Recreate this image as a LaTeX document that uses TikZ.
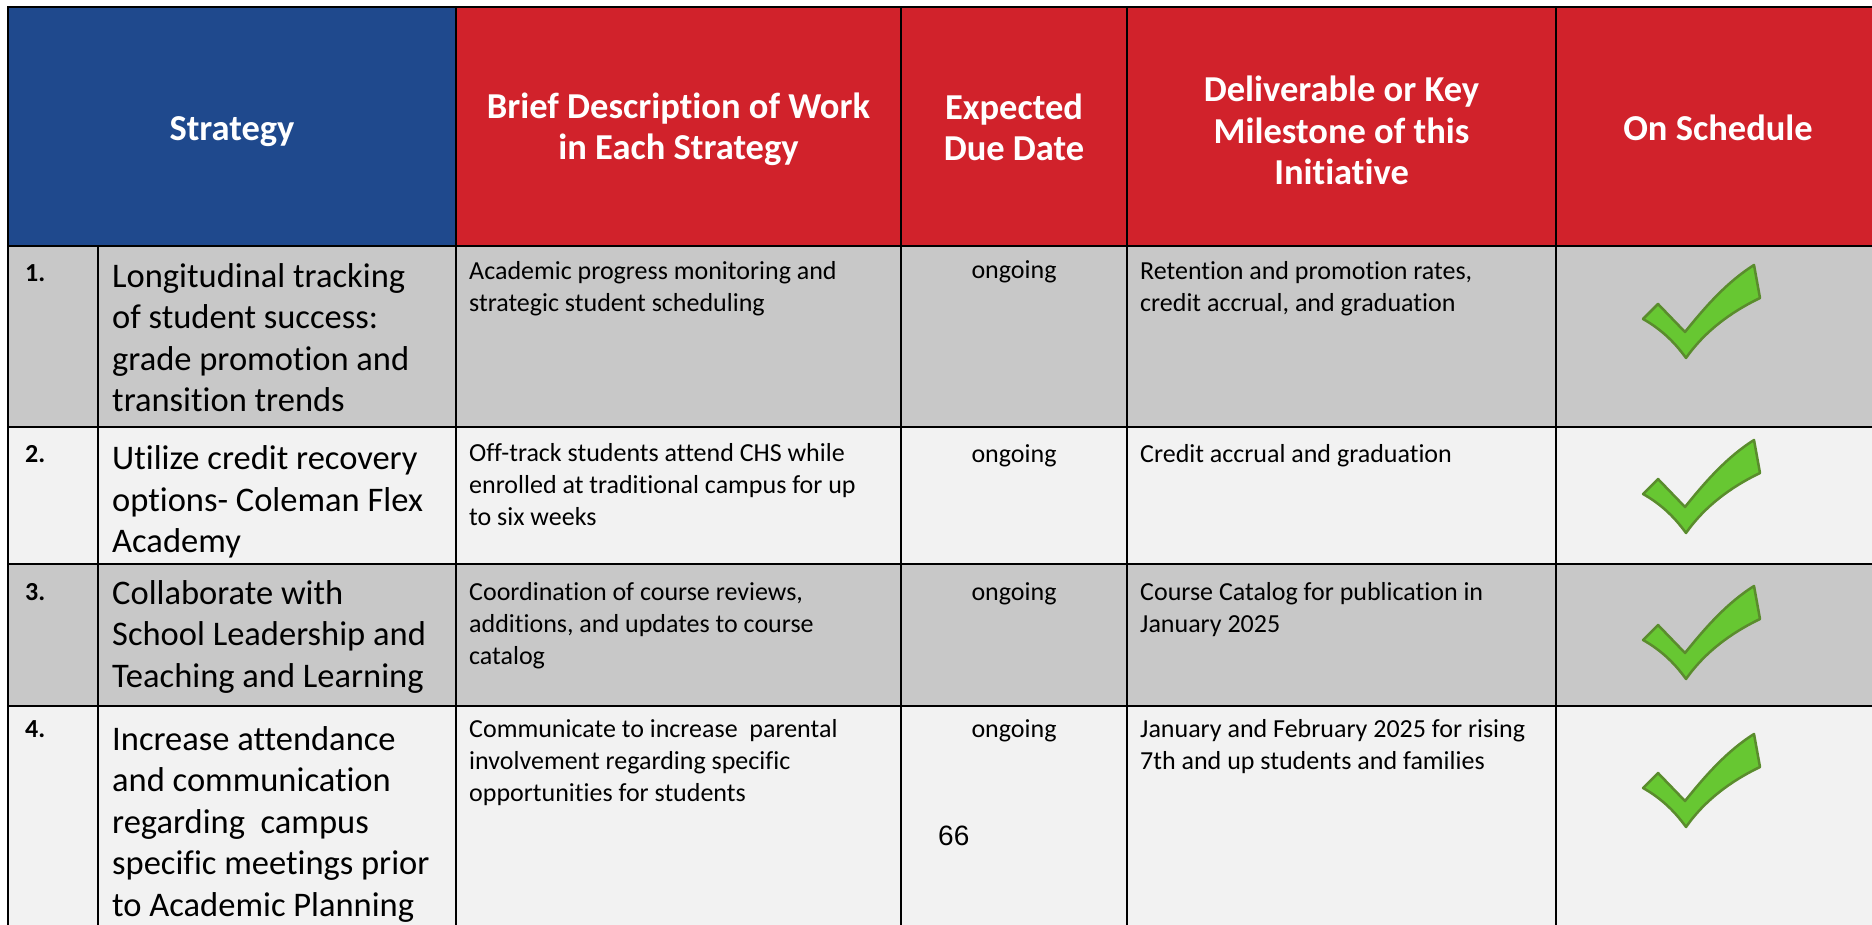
\documentclass[tikz,border=0pt]{standalone}
\usepackage{fontspec}
\setmainfont{Carlito}[Ligatures={NoCommon}]
\newfontfamily\arialfont{Liberation Sans}
\usetikzlibrary{positioning}

\definecolor{hdrblue}{RGB}{31,73,141}
\definecolor{hdrred}{RGB}{209,34,43}
\definecolor{rowdark}{RGB}{200,200,200}
\definecolor{rowlight}{RGB}{242,242,242}
\definecolor{chkfill}{RGB}{103,199,50}
\definecolor{chkline}{RGB}{90,140,45}

\tikzset{
  cell/.style={draw=black, line width=2.5pt, inner sep=0pt, outer sep=0pt},
  hdr/.style={cell, minimum height=239pt},
  hdrtext/.style={text=white, align=center, inner sep=0pt, font=\fontsize{36.5}{41.5}\selectfont\bfseries},
  cnum/.style={minimum width=90pt},
  cstrat/.style={minimum width=358pt},
  cbrief/.style={minimum width=445pt},
  cdue/.style={minimum width=226pt},
  cdeliv/.style={minimum width=429pt},
  csched/.style={minimum width=324pt},
  % base = Grundlinie der letzten Zeile
  bigtext/.style={anchor=base west, align=left, inner sep=0pt, font=\fontsize{34.5}{41.5}\selectfont},
  smalltext/.style={anchor=base west, align=left, inner sep=0pt, font=\fontsize{26}{32}\selectfont},
  numtext/.style={anchor=base west, inner sep=0pt, font=\fontsize{26}{32}\selectfont\bfseries},
  duetext/.style={anchor=base, inner sep=0pt, font=\fontsize{26}{32}\selectfont},
  checkmk/.pic={
    \filldraw[fill=chkfill, draw=chkline, line width=2.5pt, line join=round]
      (0,54) -- (15,39) -- (42,67) .. controls (62,42) and (84,17) .. (111,0)
      -- (117,33) .. controls (88,47) and (62,66) .. (43,93)
      .. controls (30,75) and (16,63) .. cycle;
  }
}

\begin{document}
\begin{tikzpicture}[x=1pt, y=-1pt]
  \useasboundingbox[fill=white] (0,0) rectangle (1872,925);

  % Kopfzeile
  \node[hdr, fill=hdrblue, minimum width=448pt, anchor=north west] (hstrat) at (8,7) {};
  \node[hdr, cbrief, fill=hdrred, right=0pt of hstrat] (hbrief) {};
  \node[hdr, cdue, fill=hdrred, right=0pt of hbrief] (hdue) {};
  \node[hdr, cdeliv, fill=hdrred, right=0pt of hdue] (hdeliv) {};
  \node[hdr, csched, fill=hdrred, right=0pt of hdeliv] (hsched) {};

  \node[hdrtext, yshift=-5pt] (thstrat) at (hstrat) {Strategy};
  \node[hdrtext, yshift=-3pt] (thbrief) at (hbrief) {Brief Description of Work\\in Each Strategy};
  \node[hdrtext, yshift=-1pt] (thdue) at (hdue) {Expected\\Due Date};
  \node[hdrtext, yshift=-4pt] (thdeliv) at (hdeliv) {Deliverable or Key\\Milestone of this\\Initiative};
  \node[hdrtext, yshift=-1pt] (thsched) at (hsched) {On Schedule};

  % Zeile 1
  \node[cell, cnum, fill=rowdark, minimum height=181pt, anchor=north west] (r1num) at (hstrat.south west) {};
  \node[cell, cstrat, fill=rowdark, minimum height=181pt, right=0pt of r1num] (r1strat) {};
  \node[cell, cbrief, fill=rowdark, minimum height=181pt, right=0pt of r1strat] (r1brief) {};
  \node[cell, cdue, fill=rowdark, minimum height=181pt, right=0pt of r1brief] (r1due) {};
  \node[cell, cdeliv, fill=rowdark, minimum height=181pt, right=0pt of r1due] (r1deliv) {};
  \node[cell, csched, fill=rowdark, minimum height=181pt, right=0pt of r1deliv] (r1sched) {};

  % Zeile 2
  \node[cell, cnum, fill=rowlight, minimum height=137pt, anchor=north west] (r2num) at (r1num.south west) {};
  \node[cell, cstrat, fill=rowlight, minimum height=137pt, right=0pt of r2num] (r2strat) {};
  \node[cell, cbrief, fill=rowlight, minimum height=137pt, right=0pt of r2strat] (r2brief) {};
  \node[cell, cdue, fill=rowlight, minimum height=137pt, right=0pt of r2brief] (r2due) {};
  \node[cell, cdeliv, fill=rowlight, minimum height=137pt, right=0pt of r2due] (r2deliv) {};
  \node[cell, csched, fill=rowlight, minimum height=137pt, right=0pt of r2deliv] (r2sched) {};

  % Zeile 3
  \node[cell, cnum, fill=rowdark, minimum height=142pt, anchor=north west] (r3num) at (r2num.south west) {};
  \node[cell, cstrat, fill=rowdark, minimum height=142pt, right=0pt of r3num] (r3strat) {};
  \node[cell, cbrief, fill=rowdark, minimum height=142pt, right=0pt of r3strat] (r3brief) {};
  \node[cell, cdue, fill=rowdark, minimum height=142pt, right=0pt of r3brief] (r3due) {};
  \node[cell, cdeliv, fill=rowdark, minimum height=142pt, right=0pt of r3due] (r3deliv) {};
  \node[cell, csched, fill=rowdark, minimum height=142pt, right=0pt of r3deliv] (r3sched) {};

  % Zeile 4 (laeuft unten aus dem Bild)
  \node[cell, cnum, fill=rowlight, minimum height=235pt, anchor=north west] (r4num) at (r3num.south west) {};
  \node[cell, cstrat, fill=rowlight, minimum height=235pt, right=0pt of r4num] (r4strat) {};
  \node[cell, cbrief, fill=rowlight, minimum height=235pt, right=0pt of r4strat] (r4brief) {};
  \node[cell, cdue, fill=rowlight, minimum height=235pt, right=0pt of r4brief] (r4due) {};
  \node[cell, cdeliv, fill=rowlight, minimum height=235pt, right=0pt of r4due] (r4deliv) {};
  \node[cell, csched, fill=rowlight, minimum height=235pt, right=0pt of r4deliv] (r4sched) {};

  % Nummern
  \node[numtext, xshift=17pt, yshift=-36pt] (n1) at (r1num.north west) {1.};
  \node[numtext, xshift=17pt, yshift=-35pt] (n2) at (r2num.north west) {2.};
  \node[numtext, xshift=17pt, yshift=-36pt] (n3) at (r3num.north west) {3.};
  \node[numtext, xshift=17pt, yshift=-31pt] (n4) at (r4num.north west) {4.};

  % Strategien
  \node[bigtext, xshift=14pt, yshift=-165.5pt] (s1) at (r1strat.north west) {Longitudinal tracking\\of student success:\\grade promotion and\\transition trends};
  \node[bigtext, xshift=14pt, yshift=-125.5pt] (s2) at (r2strat.north west) {Utilize credit recovery\\options- Coleman Flex\\Academy};
  \node[bigtext, xshift=14pt, yshift=-123pt] (s3) at (r3strat.north west) {Collaborate with\\School Leadership and\\Teaching and Learning};
  \node[bigtext, xshift=14pt, yshift=-210pt] (s4) at (r4strat.north west) {Increase attendance\\and communication\\regarding~ campus\\specific meetings prior\\to Academic Planning};

  % Beschreibungen
  \node[smalltext, xshift=13pt, yshift=-66pt] (b1) at (r1brief.north west) {Academic progress monitoring and\\strategic student scheduling};
  \node[smalltext, xshift=13pt, yshift=-98pt] (b2) at (r2brief.north west) {Off-track students attend CHS while\\enrolled at traditional campus for up\\to six weeks};
  \node[smalltext, xshift=13pt, yshift=-100pt] (b3) at (r3brief.north west) {Coordination of course reviews,\\additions, and updates to course\\catalog};
  \node[smalltext, xshift=13pt, yshift=-95pt] (b4) at (r4brief.north west) {Communicate to increase~ parental\\involvement regarding specific\\opportunities for students};

  % Termine
  \node[duetext, yshift=-33pt] (d1) at (r1due.north) {ongoing};
  \node[duetext, yshift=-35pt] (d2) at (r2due.north) {ongoing};
  \node[duetext, yshift=-36pt] (d3) at (r3due.north) {ongoing};
  \node[duetext, yshift=-31pt] (d4) at (r4due.north) {ongoing};
  \node[anchor=base west, inner sep=0pt, font=\arialfont\fontsize{28}{32}\selectfont, xshift=37pt, yshift=-139pt] (pgnum) at (r4due.north west) {66};

  % Ergebnisse
  \node[smalltext, xshift=13pt, yshift=-66pt] (m1) at (r1deliv.north west) {Retention and promotion rates,\\credit accrual, and graduation};
  \node[smalltext, xshift=13pt, yshift=-35pt] (m2) at (r2deliv.north west) {Credit accrual and graduation};
  \node[smalltext, xshift=13pt, yshift=-68pt] (m3) at (r3deliv.north west) {Course Catalog for publication in\\January 2025};
  \node[smalltext, xshift=13pt, yshift=-63pt] (m4) at (r4deliv.north west) {January and February 2025 for rising\\7th and up students and families};

  % Haken
  \pic at ([xshift=87pt, yshift=-19pt]r1sched.north west) {checkmk};
  \pic at ([xshift=87pt, yshift=-13pt]r2sched.north west) {checkmk};
  \pic at ([xshift=87pt, yshift=-22pt]r3sched.north west) {checkmk};
  \pic at ([xshift=87pt, yshift=-28pt]r4sched.north west) {checkmk};
\end{tikzpicture}
\end{document}
